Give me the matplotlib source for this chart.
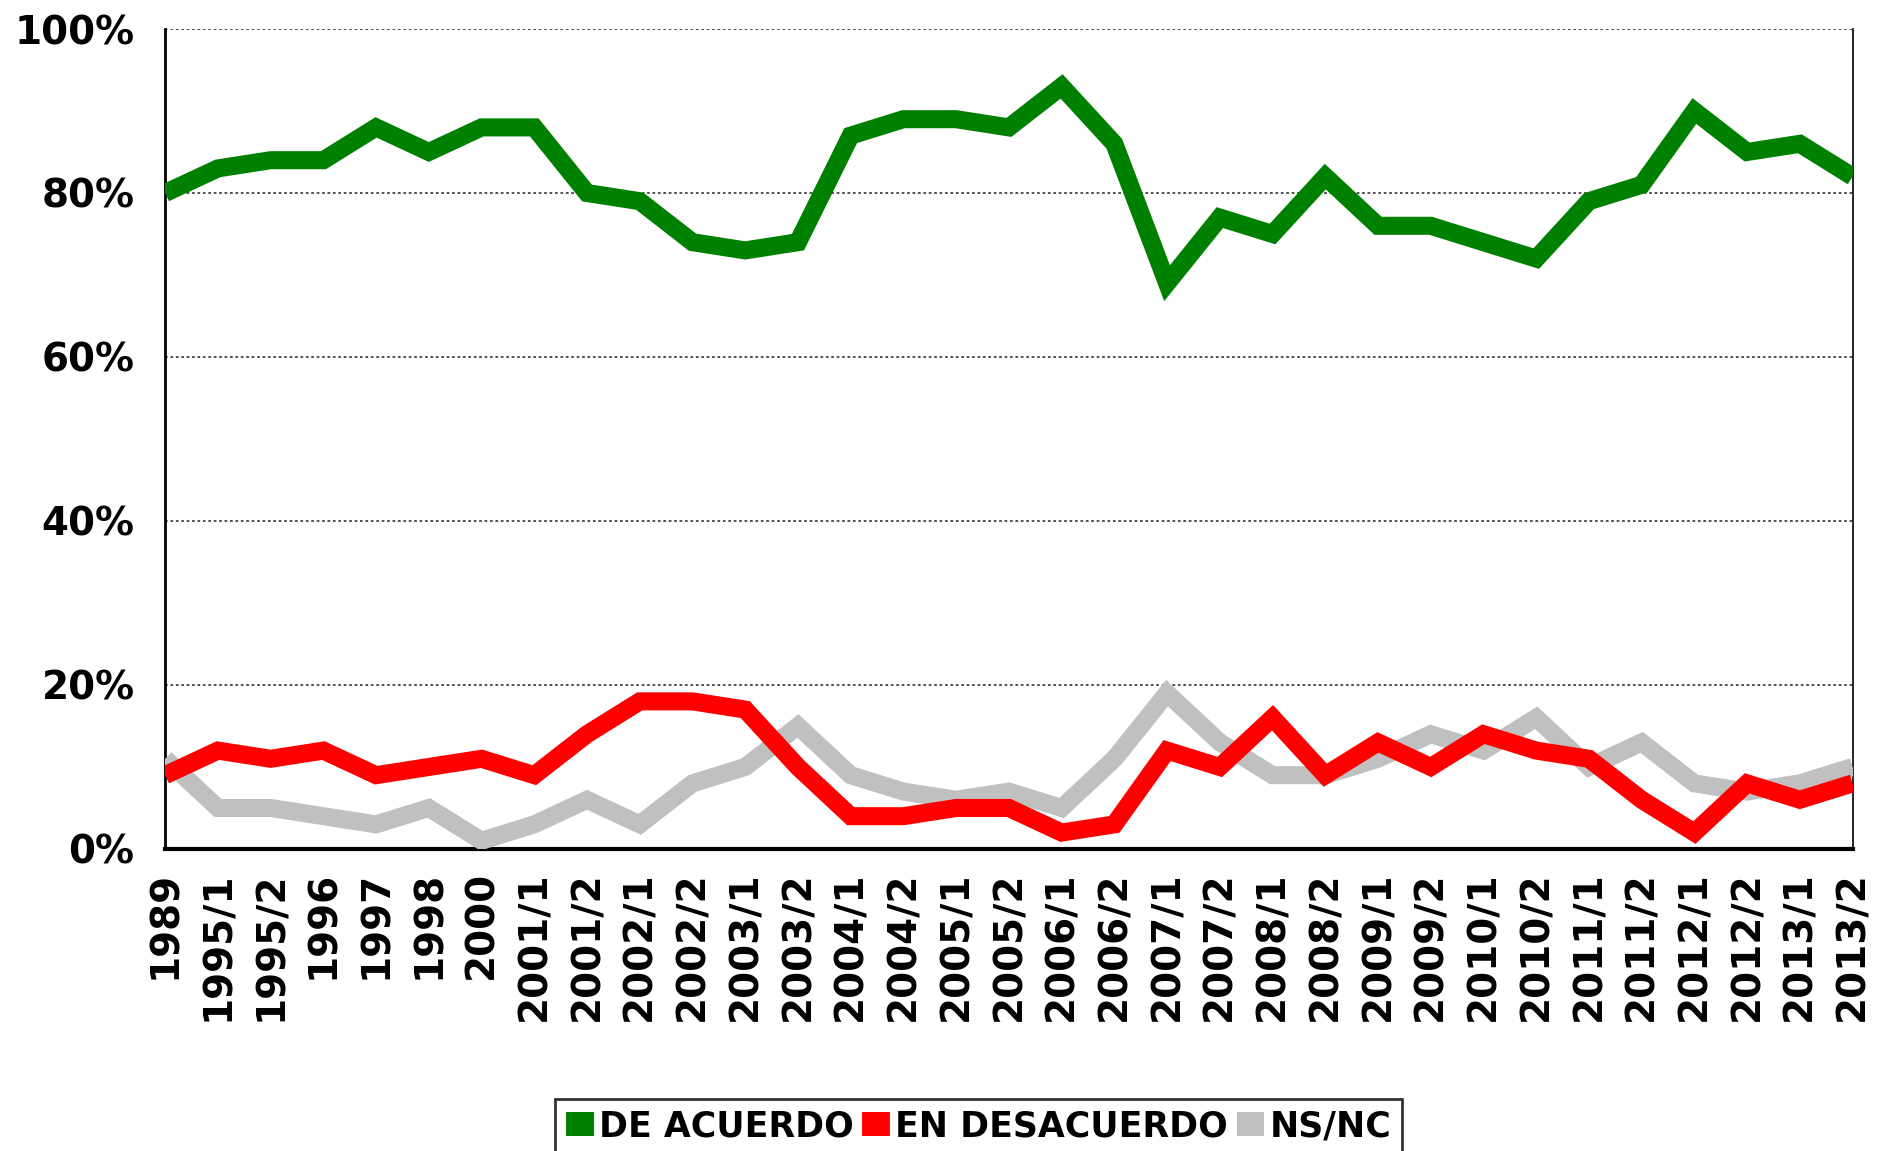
import matplotlib
matplotlib.use("Agg")
import matplotlib.pyplot as plt
from matplotlib.patches import Patch

# Data
periods = ["1989", "1995/1", "1995/2", "1996", "1997", "1998", "2000", "2001/1",
           "2001/2", "2002/1", "2002/2", "2003/1", "2003/2", "2004/1", "2004/2",
           "2005/1", "2005/2", "2006/1", "2006/2", "2007/1", "2007/2", "2008/1",
           "2008/2", "2009/1", "2009/2", "2010/1", "2010/2", "2011/1", "2011/2",
           "2012/1", "2012/2", "2013/1", "2013/2"]

de_acuerdo = [80, 83, 84, 84, 88, 85, 88, 88, 80, 79, 74, 73, 74, 87, 89, 89, 88,
              93, 86, 69, 77, 75, 82, 76, 76, 74, 72, 79, 81, 90, 85, 86, 82]
en_desacuerdo = [9, 12, 11, 12, 9, 10, 11, 9, 14, 18, 18, 17, 10, 4, 4, 5, 5,
                 2, 3, 12, 10, 16, 9, 13, 10, 14, 12, 11, 6, 2, 8, 6, 8]
ns_nc = [11, 5, 5, 4, 3, 5, 1, 3, 6, 3, 8, 10, 15, 9, 7, 6, 7,
         5, 11, 19, 13, 9, 9, 11, 14, 12, 16, 10, 13, 8, 7, 8, 10]

series = [("DE ACUERDO", de_acuerdo, "#008000"),
          ("EN DESACUERDO", en_desacuerdo, "#ff0000"),
          ("NS/NC", ns_nc, "#c0c0c0")]

plt.rcParams["font.family"] = "DejaVu Sans"
plt.rcParams["font.weight"] = "bold"

fig = plt.figure(figsize=(18.77, 11.51), dpi=100)
ax = fig.add_axes([0.088, 0.2624, 0.899, 0.7124])

x = list(range(len(periods)))
# gray first, then red, green on top
for name, vals, col in reversed(series):
    ax.plot(x, vals, color=col, linewidth=13, solid_joinstyle="miter",
            solid_capstyle="butt", zorder=3)

ax.set_xlim(0, len(periods) - 1)
ax.set_ylim(0, 100)
ax.set_yticks([0, 20, 40, 60, 80, 100])
ax.set_yticklabels([f"{v}%" for v in [0, 20, 40, 60, 80, 100]],
                   fontsize=28, fontweight="bold")
ax.set_xticks(x)
ax.set_xticklabels(periods, rotation=90, fontsize=28, fontweight="bold")
ax.tick_params(axis="x", length=0, pad=16)
ax.tick_params(axis="y", length=0, pad=22)

ax.yaxis.grid(True, linestyle=(0, (1.5, 1.5)), color="#444444", linewidth=1.3)
ax.set_axisbelow(True)
ax.spines["top"].set_visible(False)
ax.spines["left"].set_linewidth(2)
ax.spines["bottom"].set_linewidth(3)
ax.spines["right"].set_linewidth(1.2)

handles = [Patch(facecolor=col, edgecolor="none", label=name)
           for name, vals, col in series]
leg = fig.legend(handles=handles, loc="upper center",
                 bbox_to_anchor=(0.5214, 1 - 1099 / 1151), ncol=3,
                 prop={"size": 25, "weight": "bold"},
                 frameon=True, fancybox=False, edgecolor="black",
                 handlelength=0.8, handleheight=0.7, handletextpad=0.15,
                 columnspacing=0.25, borderpad=0.3, borderaxespad=0)
leg.get_frame().set_linewidth(2)

fig.savefig("out.png", dpi=100)
